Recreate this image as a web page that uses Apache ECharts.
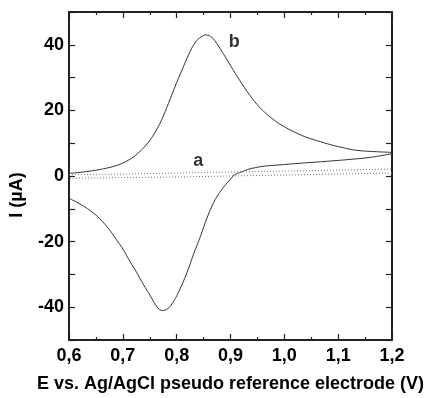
<!DOCTYPE html>
<html>
<head>
<meta charset="utf-8">
<script src="https://cdn.jsdelivr.net/npm/echarts@6/dist/echarts.min.js"></script>
<style>
html,body{margin:0;padding:0;background:#fff;}
#chart{width:428px;height:398px;}
</style>
</head>
<body>
<div id="chart"></div>
<script>
// Curve b, forward (anodic) scan: [E (V), I (µA)]
var bForward = [
  [0.600,0.8],[0.630,1.3],[0.658,2.0],[0.680,2.8],[0.695,3.6],[0.715,5.3],[0.732,7.5],
  [0.745,9.8],[0.755,12.0],[0.765,14.8],[0.775,18.2],[0.788,23.5],[0.800,28.5],[0.813,33.5],
  [0.825,38.0],[0.835,40.8],[0.845,42.4],[0.855,43.0],[0.865,42.3],[0.875,40.3],[0.885,37.7],
  [0.895,35.0],[0.910,31.0],[0.932,25.5],[0.950,21.7],[0.963,19.5],[0.980,17.2],[0.994,15.6],
  [1.015,13.7],[1.038,12.0],[1.060,10.8],[1.087,9.5],[1.110,8.6],[1.131,7.9],[1.160,7.5],[1.200,7.2]
];
// Curve b, reverse (cathodic) scan
var bReverse = [
  [1.200,6.8],[1.160,5.7],[1.118,5.0],[1.080,4.5],[1.038,4.0],[1.000,3.5],[0.963,3.0],
  [0.945,2.5],[0.932,2.0],[0.920,1.2],[0.907,0.3],[0.900,-1.0],[0.890,-2.8],[0.880,-5.0],
  [0.869,-8.0],[0.857,-12.5],[0.844,-18.5],[0.831,-24.0],[0.819,-29.5],[0.806,-34.5],
  [0.794,-38.3],[0.783,-40.5],[0.773,-41.0],[0.763,-39.8],[0.751,-36.5],[0.738,-33.0],
  [0.726,-29.5],[0.713,-26.0],[0.701,-22.5],[0.688,-19.4],[0.676,-16.6],[0.657,-13.0],
  [0.639,-10.5],[0.620,-8.5],[0.600,-6.8]
];
// Curve a (dotted), forward and reverse
var aForward = [[0.6,0.4],[0.7,0.6],[0.8,0.9],[0.9,1.2],[1.0,1.5],[1.1,1.8],[1.2,2.1]];
var aReverse = [[1.2,0.9],[1.1,0.6],[1.0,0.3],[0.9,0.0],[0.8,-0.3],[0.7,-0.5],[0.6,-0.7]];
// Curve labels
var curveLabels = [{name:'a', value:[0.840,4.6]}, {name:'b', value:[0.907,40.7]}];
// Axis ranges / ticks
var xRange = [0.6, 1.2], xStep = 0.1;
var yRange = [-50, 50], yStep = 10, yLabelStep = 20;
var xTitle = 'E vs. Ag/AgCl pseudo reference electrode (V)';
var yTitle = 'I (µA)';

var FONT = 'Liberation Sans, Arial, sans-serif';
var FS = 18;
var chart = echarts.init(document.getElementById('chart'), null, {renderer:'canvas'});
var lineCol = '#222';
function axisBase(pos, showLabel, isX){
  return {
    type:'value', position:pos,
    min: isX ? xRange[0] : yRange[0], max: isX ? xRange[1] : yRange[1],
    interval: isX ? xStep : yStep,
    axisLine:{show:true, onZero:false, lineStyle:{color:lineCol, width:2}},
    axisTick:{show:true, inside:true, length:6, lineStyle:{color:lineCol, width:1.2}},
    minorTick:{show:isX, splitNumber:2, length:3, lineStyle:{color:lineCol, width:1.2}},
    splitLine:{show:false}, minorSplitLine:{show:false},
    axisLabel:{show:showLabel, color:'#000', fontFamily:FONT, fontWeight:'bold', fontSize:FS,
      margin: isX ? 7 : 5,
      formatter: isX ? function(v){return (Math.round(v*10)/10).toFixed(1).replace('.',',');}
                     : function(v){return (Math.round(v)%yLabelStep===0)?String(Math.round(v)):'';}}
  };
}
var xb = axisBase('bottom', true, true);
xb.name = xTitle; xb.nameLocation='middle'; xb.nameGap=35;
xb.nameTextStyle = {color:'#000', fontFamily:FONT, fontWeight:'bold', fontSize:FS};
var xt = axisBase('top', false, true);
var yl = axisBase('left', true, false);
var yr = axisBase('right', false, false);

function lineSeries(data, dotted){
  return {type:'line', data:data, xAxisIndex:0, yAxisIndex:0, showSymbol:false,
    smooth: dotted ? false : 0.4,
    silent:true, animation:false,
    lineStyle: dotted ? {color:'#777', width:1, type:[1,2]} : {color:'#333', width:1}};
}

chart.setOption({
  backgroundColor:'#fff',
  animation:false,
  grid:{left:69, top:12, width:323, height:333, containLabel:false},
  xAxis:[xb, xt],
  yAxis:[yl, yr],
  graphic:[{type:'text', x:17, y:195, rotation:Math.PI/2,
    style:{text:yTitle, fill:'#000', font:'bold '+FS+'px '+FONT, align:'center', verticalAlign:'middle'}}],
  series:[
    lineSeries(bForward,false), lineSeries(bReverse,false),
    lineSeries(aForward,true), lineSeries(aReverse,true),
    {type:'scatter', data:curveLabels, symbolSize:0, silent:true, animation:false,
     label:{show:true, position:'inside', formatter:'{b}', color:'#000', fontFamily:FONT, fontWeight:'bold', fontSize:FS}}
  ]
});
</script>
</body>
</html>
